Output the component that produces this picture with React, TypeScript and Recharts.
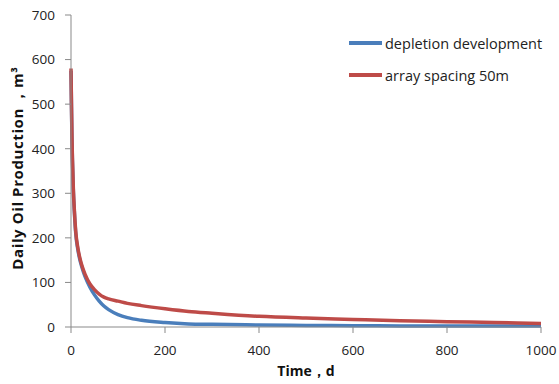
import React from 'react';
import { LineChart, Line, XAxis, YAxis, Legend } from 'recharts';

const times = [0, 1, 2, 3, 5, 7, 10, 15, 20, 25, 30, 40, 50, 60, 70, 80, 100, 120, 150, 200, 250, 300, 400, 500, 600, 700, 800, 900, 1000];
const depletion = [575, 495, 425, 375, 305, 261, 211, 171, 146, 128, 113, 90, 72, 58, 47, 39, 28, 21, 15, 10, 7, 6, 4.5, 3.5, 3, 2.5, 2.2, 2, 2];
const array50 = [580, 500, 430, 380, 310, 265, 215, 175, 150, 132, 118, 97, 84, 74, 67, 63, 58, 53, 48, 41, 35, 31, 24, 20, 17, 14, 12, 10, 8];
const xTicks = [0, 200, 400, 600, 800, 1000];
const yTicks = [0, 100, 200, 300, 400, 500, 600, 700];
const seriesNames = ['depletion development', 'array spacing 50m'];
const xTitle = 'Time，d';
const yTitle = 'Daily Oil Production ，m³';

const data = times.map((t, i) => ({ t, a: depletion[i], b: array50[i] }));

const FONT = '"Open Sans", "Noto Sans", sans-serif';
const BLUE = '#4A7EBB';
const RED = '#BE4B48';
const AXIS = '#898989';

const LegendContent = () => (
  <div style={{ fontFamily: FONT, fontSize: 14.5, color: '#222' }}>
    {[BLUE, RED].map((c, i) => (
      <div key={i} style={{ display: 'flex', alignItems: 'center', height: 32 }}>
        <div style={{ width: 33, height: 4, background: c, marginRight: 3 }} />
        <span>{seriesNames[i]}</span>
      </div>
    ))}
  </div>
);

export default function App() {
  return (
    <div style={{ position: 'absolute', left: 0, top: 0 }}>
      <LineChart width={559} height={384} data={data} margin={{ top: 15, right: 18, bottom: 0, left: 0 }}>
        <XAxis
          dataKey="t"
          type="number"
          domain={[0, 1000]}
          ticks={xTicks}
          tickSize={6}
          tickMargin={12}
          height={57}
          stroke={AXIS}
          tick={{ fill: '#222', fontSize: 13.5, fontFamily: FONT }}
          label={{ value: xTitle, position: 'insideBottom', offset: 8, style: { fontFamily: FONT, fontSize: 14, fontWeight: 'bold', fill: '#111' } }}
        />
        <YAxis
          type="number"
          domain={[0, 700]}
          ticks={yTicks}
          tickSize={6}
          tickMargin={10}
          width={71}
          stroke={AXIS}
          tick={{ fill: '#222', fontSize: 13.5, fontFamily: FONT }}
          label={{
            content: () => (
              <text x={23} y={168} transform="rotate(-90 23 168)" textAnchor="middle" style={{ fontFamily: FONT, fontSize: 15, fontWeight: 'bold', fill: '#111', letterSpacing: 0.6 }}>
                {yTitle}
              </text>
            ),
          }}
        />
        <Legend
          layout="vertical"
          align="center"
          verticalAlign="middle"
          content={<LegendContent />}
          wrapperStyle={{ left: 349, top: 27, width: 210, height: 64 }}
        />
        <Line type="monotone" dataKey="a" name={seriesNames[0]} stroke={BLUE} strokeWidth={3.5} dot={false} isAnimationActive={false} />
        <Line type="monotone" dataKey="b" name={seriesNames[1]} stroke={RED} strokeWidth={3.5} dot={false} isAnimationActive={false} />
      </LineChart>
    </div>
  );
}
